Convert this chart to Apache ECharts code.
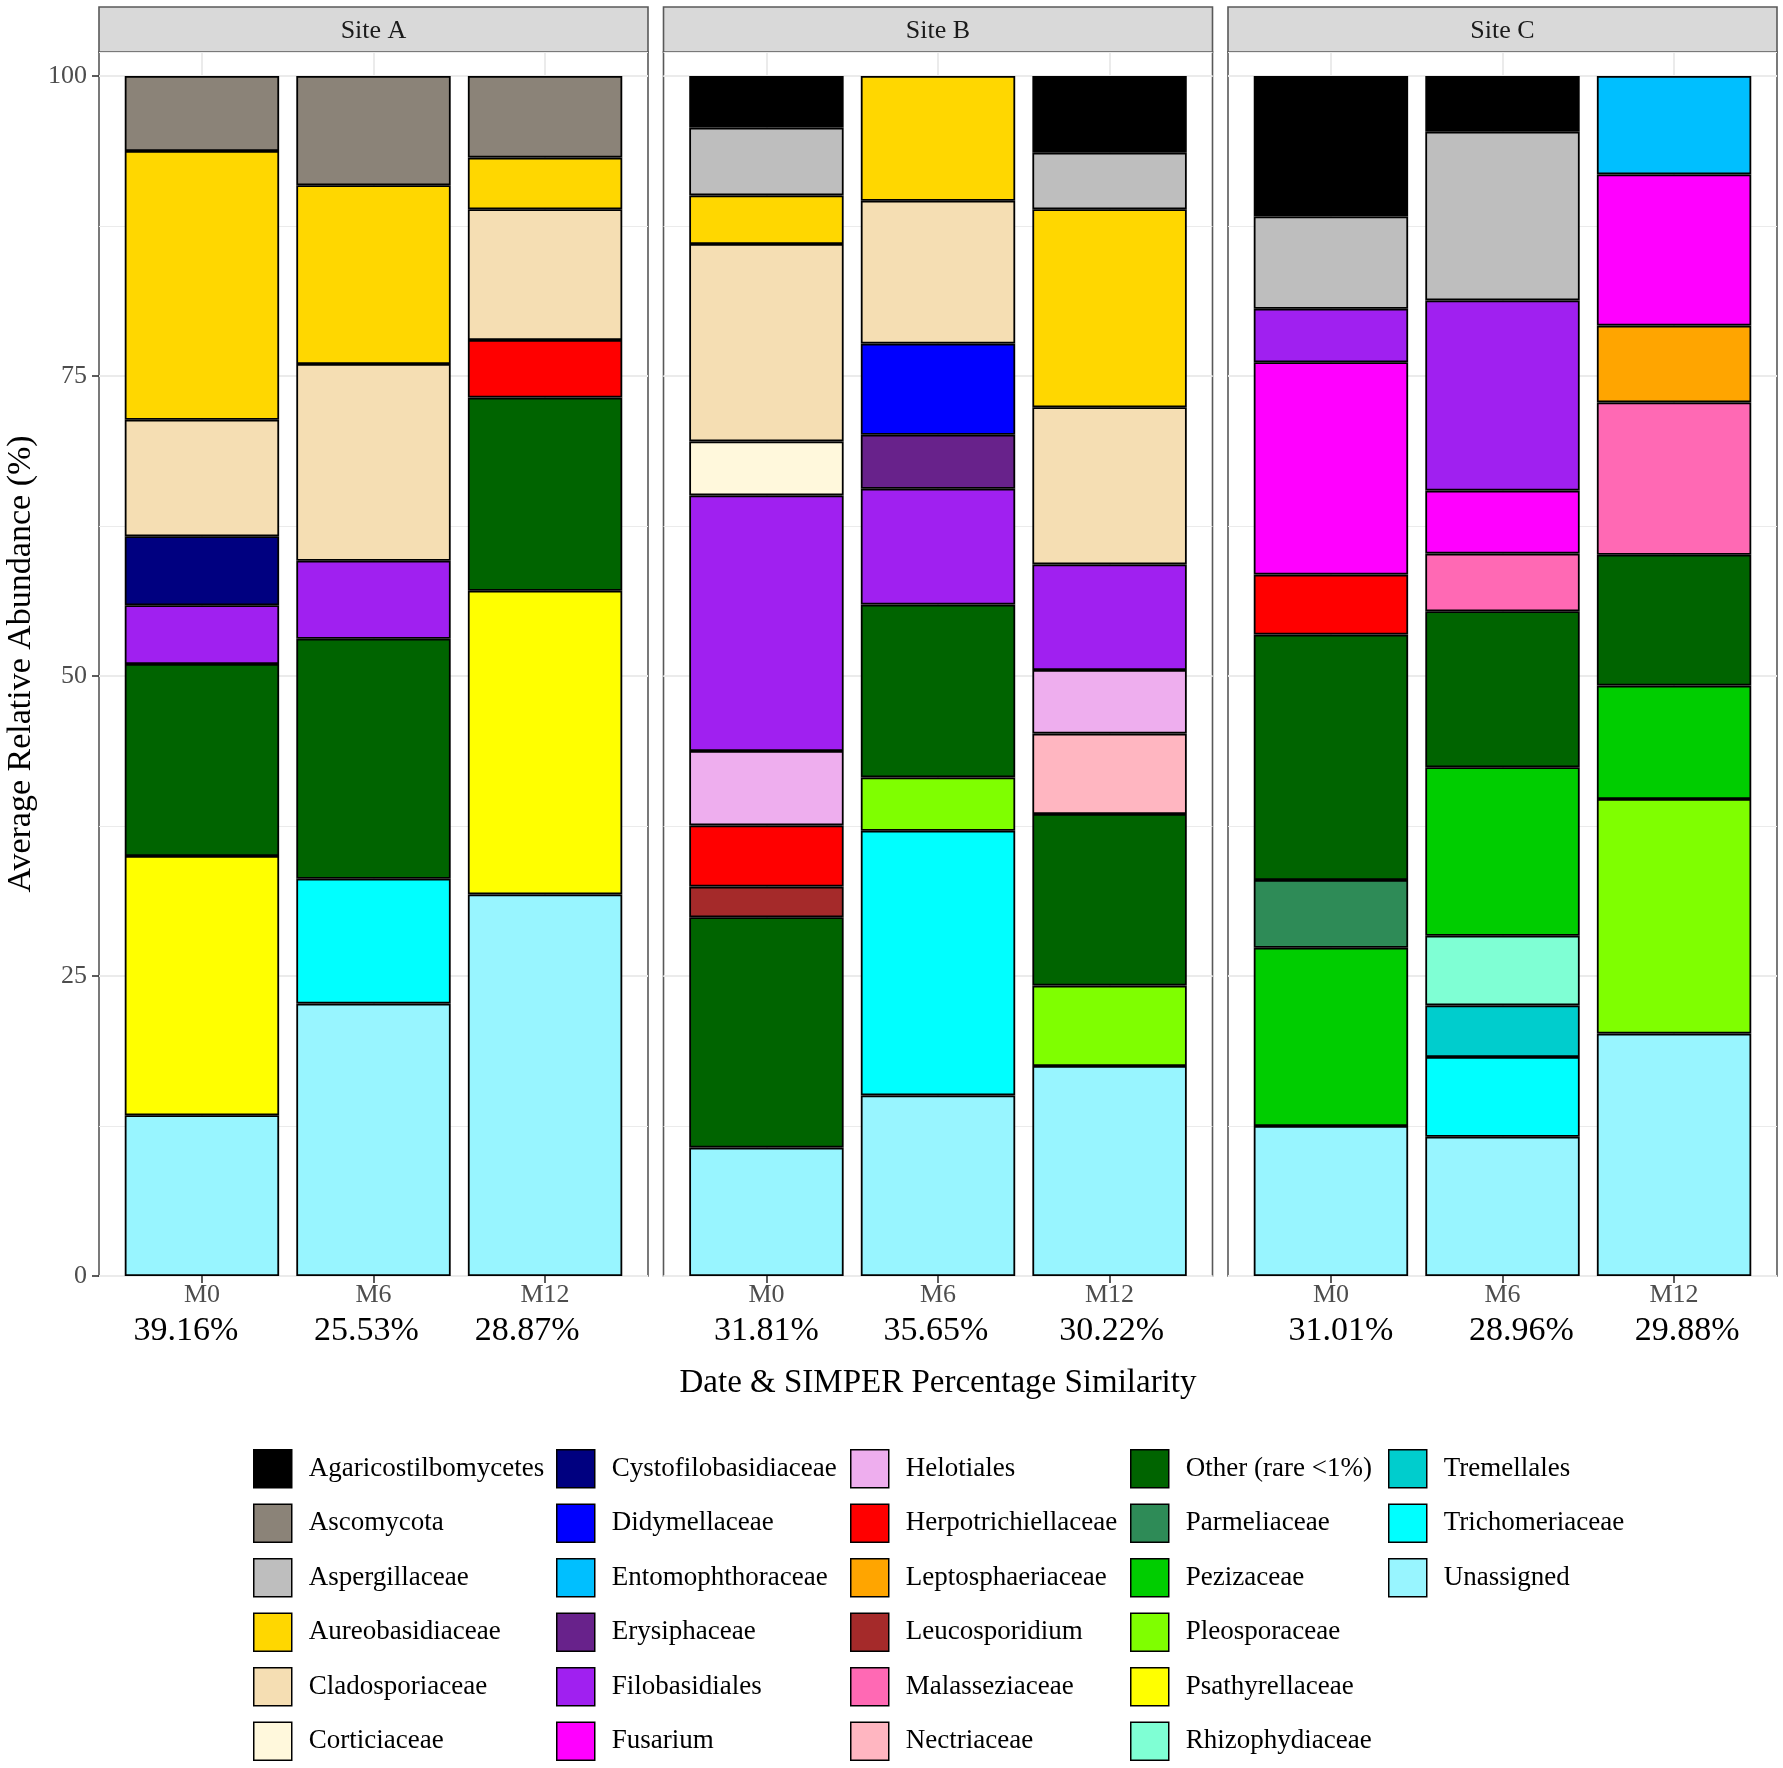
<!DOCTYPE html>
<html>
<head>
<meta charset="utf-8">
<script src="https://cdn.jsdelivr.net/npm/echarts@6/dist/echarts.min.js"></script>
<style>html,body{margin:0;padding:0;background:#fff}#c{width:1783px;height:1768px}</style>
</head>
<body>
<div id="c"></div>
<script>
// ---------- data ----------
const taxa = ['Agaricostilbomycetes','Ascomycota','Aspergillaceae','Aureobasidiaceae','Cladosporiaceae','Corticiaceae',
  'Cystofilobasidiaceae','Didymellaceae','Entomophthoraceae','Erysiphaceae','Filobasidiales','Fusarium',
  'Helotiales','Herpotrichiellaceae','Leptosphaeriaceae','Leucosporidium','Malasseziaceae','Nectriaceae',
  'Other (rare <1%)','Parmeliaceae','Pezizaceae','Pleosporaceae','Psathyrellaceae','Rhizophydiaceae',
  'Tremellales','Trichomeriaceae','Unassigned'];
const taxaColors = ['#000000','#8B8378','#BEBEBE','#FFD700','#F5DEB3','#FFF8DC',
  '#000080','#0000FF','#00BFFF','#68228B','#A020F0','#FF00FF',
  '#EEAEEE','#FF0000','#FFA500','#A52A2A','#FF69B4','#FFB6C1',
  '#006400','#2E8B57','#00CD00','#7FFF00','#FFFF00','#7FFFD4',
  '#00CDCD','#00FFFF','#98F5FF'];
const dates = ['M0','M6','M12'];
const sites = ['Site A','Site B','Site C'];
const simperA = ['39.16%','25.53%','28.87%'];
const simperB = ['31.81%','35.65%','30.22%'];
const simperC = ['31.01%','28.96%','29.88%'];
const yTicks = [0,25,50,75,100];

// abundance (%) per bar, aligned with taxa; 0 = absent
const siteA_M0 = [0, 6.25, 0, 22.4, 9.7, 0, 5.75, 0, 0,
                  0, 4.9, 0, 0, 0, 0, 0, 0, 0,
                  16.0, 0, 0, 0, 21.6, 0, 0, 0, 13.4];
const siteA_M6 = [0, 9.1, 0, 14.9, 16.4, 0, 0, 0, 0,
                  0, 6.5, 0, 0, 0, 0, 0, 0, 0,
                  20.0, 0, 0, 0, 0, 0, 0, 10.4, 22.7];
const siteA_M12 = [0, 6.8, 0, 4.3, 10.9, 0, 0, 0, 0,
                   0, 0, 0, 0, 4.8, 0, 0, 0, 0,
                   16.1, 0, 0, 0, 25.3, 0, 0, 0, 31.8];
const siteB_M0 = [4.3, 0, 5.65, 4.05, 16.45, 4.5, 0, 0, 0,
                  0, 21.3, 0, 6.2, 5.1, 0, 2.55, 0, 0,
                  19.2, 0, 0, 0, 0, 0, 0, 0, 10.7];
const siteB_M6 = [0, 0, 0, 10.4, 11.9, 0, 0, 7.6, 0,
                  4.5, 9.65, 0, 0, 0, 0, 0, 0, 0,
                  14.4, 0, 0, 4.45, 0, 0, 0, 22.05, 15.05];
const siteB_M12 = [6.4, 0, 4.7, 16.5, 13.1, 0, 0, 0, 0,
                   0, 8.8, 0, 5.3, 0, 0, 0, 0, 6.7,
                   14.3, 0, 0, 6.7, 0, 0, 0, 0, 17.5];
const siteC_M0 = [11.7, 0, 7.7, 0, 0, 0, 0, 0, 0,
                  0, 4.45, 17.7, 0, 5.0, 0, 0, 0, 0,
                  20.45, 5.65, 14.85, 0, 0, 0, 0, 0, 12.5];
const siteC_M6 = [4.65, 0, 14.05, 0, 0, 0, 0, 0, 0,
                  0, 15.85, 5.25, 0, 0, 0, 0, 4.8, 0,
                  13.0, 0, 14.05, 0, 0, 5.8, 4.3, 6.65, 11.6];
const siteC_M12 = [0, 0, 0, 0, 0, 0, 0, 0, 8.2,
                   0, 0, 12.6, 0, 0, 6.4, 0, 12.7, 0,
                   10.9, 0, 9.45, 19.55, 0, 0, 0, 0, 20.2];

const siteBars = [[siteA_M0, siteA_M6, siteA_M12],[siteB_M0, siteB_M6, siteB_M12],[siteC_M0, siteC_M6, siteC_M12]];
const siteSimper = [simperA, simperB, simperC];

// ---------- layout ----------
const FONT = 'Liberation Serif';
const panelLefts = [99, 663.5, 1228];
const panelW = 549, panelTop = 52, panelH = 1224;
const unit = panelW / 3.2;
// horizontal nudge (px) of the similarity labels relative to their tick
const pctShift = [[-16, -7, -18], [0, -2, 2], [10, 19, 13]];
const grids = [], xAxes = [], yAxes = [], series = [];

panelLefts.forEach(L => grids.push({left: L, top: panelTop, width: panelW, height: panelH, show: true,
  borderColor: '#595959', borderWidth: 1.6, backgroundColor: 'transparent'}));
panelLefts.forEach(L => grids.push({left: L + 0.6 * unit, top: panelTop, width: 2 * unit, height: panelH, show: false}));

// panel x axes (hidden)
panelLefts.forEach((L, s) => xAxes.push({type: 'value', gridIndex: s, show: false, min: 0, max: 1}));
// bar x axes
panelLefts.forEach((L, s) => {
  const rich = {a: {fontSize: 26, color: '#4D4D4D', lineHeight: 32, fontFamily: FONT}};
  pctShift[s].forEach((d, i) => {
    rich['b' + i] = {fontSize: 34, color: '#000', lineHeight: 40, fontFamily: FONT,
      padding: d >= 0 ? [0, 0, 0, 2 * d] : [0, -2 * d, 0, 0]};
  });
  xAxes.push({
    type: 'category', gridIndex: 3 + s, data: dates, boundaryGap: false, position: 'bottom',
    axisLine: {show: false},
    axisTick: {show: true, length: 7, lineStyle: {color: '#333', width: 1.6}},
    axisLabel: {interval: 0, margin: 3,
      formatter: (v, i) => '{a|' + v + '}\n{b' + i + '|' + siteSimper[s][i] + '}',
      rich: rich},
    splitLine: {show: true, lineStyle: {color: '#EBEBEB', width: 2}}
  });
});
// panel minor y axes
panelLefts.forEach((L, s) => yAxes.push({type: 'value', gridIndex: s, position: 'left', min: 0, max: 102, interval: 12.5,
  axisLine: {show: false}, axisTick: {show: false}, axisLabel: {show: false},
  splitLine: {show: true, lineStyle: {color: '#EBEBEB', width: 1}}}));
// panel major y axes
panelLefts.forEach((L, s) => yAxes.push({type: 'value', gridIndex: s, position: 'left', min: 0, max: 102, interval: 25,
  axisLine: {show: false},
  axisTick: {show: s === 0, length: 7, customValues: yTicks, lineStyle: {color: '#333', width: 1.6}},
  axisLabel: {show: s === 0, customValues: yTicks, margin: 12, fontSize: 26, color: '#4D4D4D', fontFamily: FONT},
  splitLine: {show: true, lineStyle: {color: '#EBEBEB', width: 2}},
  name: s === 0 ? 'Average Relative Abundance (%)' : '',
  nameLocation: 'middle', nameRotate: 90, nameGap: 61,
  nameTextStyle: {fontSize: 34, color: '#000', fontFamily: FONT}}));
// bar y axes
panelLefts.forEach((L, s) => yAxes.push({type: 'value', gridIndex: 3 + s, position: 'left', min: 0, max: 102, show: false}));

// bars: ggplot stacks first level on top, so add from last taxon upward
siteBars.forEach((bars, s) => {
  for (let t = taxa.length - 1; t >= 0; t--) {
    const vals = bars.map(b => b[t] > 0 ? b[t] : null);
    if (vals.every(v => v === null)) continue;
    series.push({
      type: 'bar', name: taxa[t], xAxisIndex: 3 + s, yAxisIndex: 6 + s, stack: 'site' + s,
      data: vals, barWidth: 0.9 * unit, clip: false,
      itemStyle: {color: taxaColors[t], borderColor: '#000', borderWidth: 1.8},
      emphasis: {disabled: true}
    });
  }
});

// legend: 5 columns
const legendCols = [taxa.slice(0, 6), taxa.slice(6, 12), taxa.slice(12, 18), taxa.slice(18, 24), taxa.slice(24)];
const legendLefts = [253, 556, 850, 1130, 1388];
const legends = legendCols.map((names, ci) => ({
  orient: 'vertical', left: legendLefts[ci], top: 1449, height: 320, padding: 0,
  itemWidth: 38, itemHeight: 38, itemGap: 15, icon: 'rect', selectedMode: false,
  data: names,
  itemStyle: {borderColor: '#000', borderWidth: 1.5},
  textStyle: {fontSize: 27, color: '#000', fontFamily: FONT, padding: [0, 0, 0, 12]}
}));

// strips and x title
const graphics = [];
panelLefts.forEach((L, s) => {
  graphics.push({type: 'rect', shape: {x: L, y: 7, width: panelW, height: 45},
    style: {fill: '#D9D9D9', stroke: '#595959', lineWidth: 1.6}});
  graphics.push({type: 'text', x: L + panelW / 2, y: 31,
    style: {text: sites[s], fontSize: 26, fontFamily: FONT, fill: '#1A1A1A', textAlign: 'center', textVerticalAlign: 'middle'}});
});
graphics.push({type: 'text', x: 938, y: 1383,
  style: {text: 'Date & SIMPER Percentage Similarity', fontSize: 33, fontFamily: FONT, fill: '#000',
    textAlign: 'center', textVerticalAlign: 'middle'}});

const chart = echarts.init(document.getElementById('c'), null, {renderer: 'canvas', width: 1783, height: 1768});
chart.setOption({
  backgroundColor: '#fff',
  animation: false,
  textStyle: {fontFamily: FONT},
  grid: grids, xAxis: xAxes, yAxis: yAxes, series: series,
  legend: legends, graphic: graphics
});
</script>
</body>
</html>
